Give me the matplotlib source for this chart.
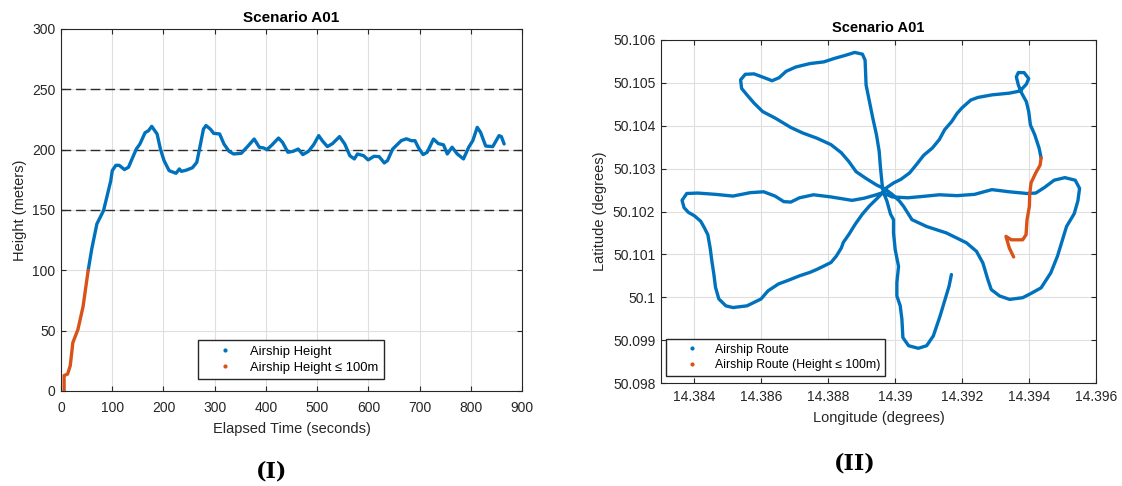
import matplotlib
matplotlib.use("Agg")
import matplotlib.pyplot as plt
from matplotlib.lines import Line2D
import numpy as np

plt.rcParams["font.family"] = ["Liberation Sans", "DejaVu Sans"]

BLUE = "#0072BD"
ORANGE = "#D95319"
AXIS_GREY = "#262626"

# --- flight height over time (seconds, meters) ---
elapsed_s = [6, 6, 12.8, 18, 23, 33, 43, 53, 60, 70, 83, 97, 100, 107, 113.6,
             123.7, 131.7, 140, 147, 154, 164, 170.7, 177, 187.5, 194, 201, 211,
             224.5, 231, 235, 244.5, 256.5, 265, 271, 278, 283, 291.5, 298, 309.6,
             318, 328, 337, 352, 365, 377, 387, 395.5, 402, 412, 424.5, 432.5,
             442.9, 453, 463, 472, 483, 493, 503, 510, 520, 530, 543.7, 553.8,
             563.8, 572.6, 578.6, 590.7, 599.5, 611, 621, 631, 637.3, 647.4, 664,
             674, 684, 691, 698, 706.8, 714.8, 727, 736.6, 746.6, 754, 763.4,
             773.5, 785.6, 795.8, 803.8, 812.5, 819, 829, 842.8, 855, 859.6, 865]
height_m = [0, 12.8, 14, 21, 40, 51, 70, 100, 117.8, 138.5, 149.5, 174, 182.6,
            187, 187, 183.5, 185.4, 193.7, 200.5, 204.7, 214, 215.7, 219.3, 213,
            200.5, 191, 182.6, 180.4, 184, 182, 183, 185, 189.5, 202, 217, 220,
            217, 213.5, 213, 204.7, 198.6, 196.4, 197, 203, 208.8, 202, 201.4,
            200, 204, 209.6, 206, 197.8, 198.6, 200.5, 195.9, 198.6, 204, 211.6,
            207.4, 202.5, 205, 210.8, 204.7, 195, 192.3, 196.4, 195, 191.5,
            194.5, 194.2, 189, 190.9, 200.5, 207.4, 209, 207.4, 207.4, 201.4,
            195.9, 197.8, 208.8, 205, 204, 196.4, 202, 196.4, 192.3, 202, 207.4,
            218.5, 214.3, 203, 202.5, 211.6, 210.8, 204.7]
height_limit = 100
reference_heights = [150, 200, 250]

# --- route (degrees) ---
route_lon = [
    14.39436, 14.39430, 14.39417, 14.39404, 14.39399, 14.39392, 14.39378,
    14.39368, 14.39362, 14.39368, 14.39385, 14.39399, 14.39392, 14.39373,
    14.39341, 14.39289, 14.39247, 14.39226, 14.39200, 14.39185, 14.39169,
    14.39148, 14.39132, 14.39111, 14.39085, 14.39064, 14.39043, 14.39017,
    14.38996, 14.38975, 14.38963, 14.38944, 14.38923, 14.38902, 14.38881,
    14.38862, 14.38845, 14.38839, 14.38824, 14.38808, 14.38766, 14.38745,
    14.38714, 14.38682, 14.38651, 14.38620, 14.38599, 14.38557, 14.38515,
    14.38494, 14.38473, 14.38463, 14.38458, 14.38452, 14.38447, 14.38440,
    14.38429, 14.38419, 14.38400, 14.38382, 14.38369, 14.38363, 14.38377,
    14.38410, 14.38463, 14.38515, 14.38567, 14.38607, 14.38641, 14.38667,
    14.38688, 14.38714, 14.38756, 14.38808, 14.38871, 14.38907, 14.38939,
    14.38963, 14.38991, 14.39038, 14.39080, 14.39132, 14.39185, 14.39237,
    14.39289, 14.39341, 14.39394, 14.39420, 14.39446, 14.39475, 14.39507,
    14.39538, 14.39551, 14.39546, 14.39535, 14.39512, 14.39500, 14.39485,
    14.39465, 14.39436, 14.39406, 14.39381, 14.39342, 14.39312, 14.39287,
    14.39277, 14.39262, 14.39243, 14.39213, 14.39153, 14.39094, 14.39050,
    14.39025, 14.39012, 14.38991, 14.38970, 14.38944, 14.38913, 14.38883,
    14.38862, 14.38839, 14.38808, 14.38766, 14.38724, 14.38688, 14.38641,
    14.38604, 14.38578, 14.38557, 14.38541, 14.38538, 14.38552, 14.38578,
    14.38609, 14.38632, 14.38653, 14.38674, 14.38703, 14.38745, 14.38787,
    14.38818, 14.38850, 14.38879, 14.38902, 14.38910, 14.38913, 14.38923,
    14.38933, 14.38944, 14.38952, 14.38956, 14.38961, 14.38965, 14.38975,
    14.38986, 14.38995, 14.38995, 14.39000, 14.39010, 14.39005, 14.39005,
    14.39015, 14.39020, 14.39023, 14.39040, 14.39069, 14.39094, 14.39114,
    14.39134, 14.39149, 14.39161, 14.39168]
route_lat = [
    50.10325, 50.10348, 50.10379, 50.10402, 50.10433, 50.10456, 50.10476,
    50.10495, 50.10514, 50.10524, 50.10524, 50.10510, 50.10497, 50.10481,
    50.10476, 50.10472, 50.10466, 50.10460, 50.10442, 50.10429, 50.10410,
    50.10391, 50.10368, 50.10348, 50.10331, 50.10310, 50.10290, 50.10275,
    50.10267, 50.10256, 50.10244, 50.10229, 50.10213, 50.10194, 50.10171,
    50.10147, 50.10128, 50.10115, 50.10096, 50.10081, 50.10065, 50.10058,
    50.10050, 50.10040, 50.10031, 50.10015, 50.09996, 50.09980, 50.09976,
    50.09980, 50.09996, 50.10023, 50.10054, 50.10085, 50.10115, 50.10146,
    50.10163, 50.10177, 50.10190, 50.10198, 50.10209, 50.10226, 50.10242,
    50.10243, 50.10240, 50.10236, 50.10244, 50.10246, 50.10236, 50.10223,
    50.10222, 50.10232, 50.10239, 50.10234, 50.10226, 50.10231, 50.10238,
    50.10244, 50.10234, 50.10232, 50.10235, 50.10239, 50.10237, 50.10240,
    50.10251, 50.10246, 50.10242, 50.10243, 50.10256, 50.10273, 50.10279,
    50.10273, 50.10254, 50.10225, 50.10195, 50.10165, 50.10134, 50.10096,
    50.10057, 50.10022, 50.10009, 50.09999, 50.09995, 50.10003, 50.10018,
    50.10041, 50.10080, 50.10107, 50.10127, 50.10150, 50.10165, 50.10181,
    50.10212, 50.10225, 50.10240, 50.10252, 50.10262, 50.10277, 50.10293,
    50.10316, 50.10337, 50.10356, 50.10371, 50.10383, 50.10396, 50.10418,
    50.10433, 50.10453, 50.10472, 50.10487, 50.10507, 50.10520, 50.10521,
    50.10512, 50.10505, 50.10512, 50.10527, 50.10537, 50.10545, 50.10549,
    50.10557, 50.10564, 50.10571, 50.10567, 50.10553, 50.10495, 50.10456,
    50.10418, 50.10379, 50.10341, 50.10302, 50.10263, 50.10244, 50.10225,
    50.10194, 50.10181, 50.10150, 50.10111, 50.10072, 50.10034, 50.10003,
    50.09980, 50.09949, 50.09906, 50.09887, 50.09881, 50.09887, 50.09910,
    50.09956, 50.09995, 50.10026, 50.10053]

# climb-out part of the route, flown below the height limit
low_lon = [14.39354, 14.39341, 14.39331, 14.39347, 14.39381, 14.39391, 14.39394,
           14.39401, 14.39402, 14.39406, 14.39420, 14.39433, 14.39436]
low_lat = [50.10094, 50.10115, 50.10142, 50.10134, 50.10134, 50.10146, 50.10181,
           50.10212, 50.10240, 50.10267, 50.10290, 50.10308, 50.10325]

time_ticks = list(range(0, 901, 100))
height_ticks = list(range(0, 301, 50))
lon_ticks = [14.384, 14.386, 14.388, 14.390, 14.392, 14.394, 14.396]
lon_labels = ["14.384", "14.386", "14.388", "14.39", "14.392", "14.394", "14.396"]
lat_ticks = [50.098, 50.099, 50.100, 50.101, 50.102, 50.103, 50.104, 50.105, 50.106]
lat_labels = ["50.098", "50.099", "50.1", "50.101", "50.102", "50.103", "50.104",
              "50.105", "50.106"]


def style_axes(ax, xpad):
    """matlab-ish box, inward ticks on all four sides, light grid"""
    for sp in ax.spines.values():
        sp.set_color(AXIS_GREY)
        sp.set_linewidth(0.8)
    ax.tick_params(direction="in", length=3.5, width=0.8, colors=AXIS_GREY,
                   labelsize=10, top=True, right=True, pad=4)
    ax.tick_params(axis="x", pad=xpad)
    ax.grid(True, color="#dfdfdf", linewidth=0.8)
    ax.set_axisbelow(True)


def legend_handles(labels):
    return [Line2D([], [], ls="none", marker=".", markersize=4, color=c, label=l)
            for c, l in zip((BLUE, ORANGE), labels)]


LEGEND_KW = dict(loc="lower left", frameon=True, fancybox=False,
                 edgecolor=AXIS_GREY, framealpha=1, borderpad=0.4,
                 handlelength=3.4, handletextpad=0.2, labelspacing=0.3,
                 borderaxespad=0)

fig = plt.figure(figsize=(11.22, 4.86), dpi=100)

# (I) height profile
ax1 = fig.add_axes([0.0544, 0.1955, 0.4109, 0.7449])
style_axes(ax1, xpad=7)
t = np.array(elapsed_s)
h = np.array(height_m)
low = h <= height_limit
last_low = np.where(low)[0][-1]
ax1.plot(t[last_low:], h[last_low:], color=BLUE, lw=2.4, solid_capstyle="round",
         solid_joinstyle="round")
ax1.plot(t[low], h[low], color=ORANGE, lw=2.4, solid_capstyle="round",
         solid_joinstyle="round")
for ref in reference_heights:
    line = ax1.axhline(ref, color="#2b2b2b", lw=1.0, zorder=1.5)
    line.set_dashes([7, 3.5])
ax1.set_xlim(0, 900)
ax1.set_ylim(0, 300)
ax1.set_xticks(time_ticks)
ax1.set_yticks(height_ticks)
ax1.set_xlabel("Elapsed Time (seconds)", fontsize=10.5, color=AXIS_GREY, labelpad=5)
ax1.set_ylabel("Height (meters)", fontsize=10.5, color=AXIS_GREY, labelpad=4)
ax1.set_title("Scenario A01", fontsize=11, fontweight="bold", pad=5)
ax1.legend(handles=legend_handles(["Airship Height",
                                   "Airship Height \u2264 100m"]),
           bbox_to_anchor=(0.297, 0.033), fontsize=9.4, **LEGEND_KW)

# (II) route map
ax2 = fig.add_axes([0.5891, 0.2119, 0.3877, 0.7058])
style_axes(ax2, xpad=5)
ax2.plot(route_lon, route_lat, color=BLUE, lw=2.4, solid_capstyle="round",
         solid_joinstyle="round")
ax2.plot(low_lon, low_lat, color=ORANGE, lw=2.4, solid_capstyle="round",
         solid_joinstyle="round")
ax2.set_xlim(14.383, 14.396)
ax2.set_ylim(50.098, 50.106)
ax2.set_xticks(lon_ticks)
ax2.set_xticklabels(lon_labels)
ax2.set_yticks(lat_ticks)
ax2.set_yticklabels(lat_labels)
ax2.set_xlabel("Longitude (degrees)", fontsize=10.5, color=AXIS_GREY, labelpad=5)
ax2.set_ylabel("Latitude (degrees)", fontsize=10.5, color=AXIS_GREY, labelpad=4)
ax2.set_title("Scenario A01", fontsize=10.5, fontweight="bold", pad=6)
ax2.legend(handles=legend_handles(["Airship Route",
                                   "Airship Route (Height \u2264 100m)"]),
           bbox_to_anchor=(0.0115, 0.02), fontsize=8.8, **LEGEND_KW)

# panel tags
fig.text(272 / 1122, 1 - 471 / 486, "(I)", ha="center", va="center",
         fontsize=16, fontweight="bold", family="DejaVu Serif")
fig.text(855 / 1122, 1 - 463 / 486, "(II)", ha="center", va="center",
         fontsize=16, fontweight="bold", family="DejaVu Serif")

fig.savefig("out.png", dpi=100)
